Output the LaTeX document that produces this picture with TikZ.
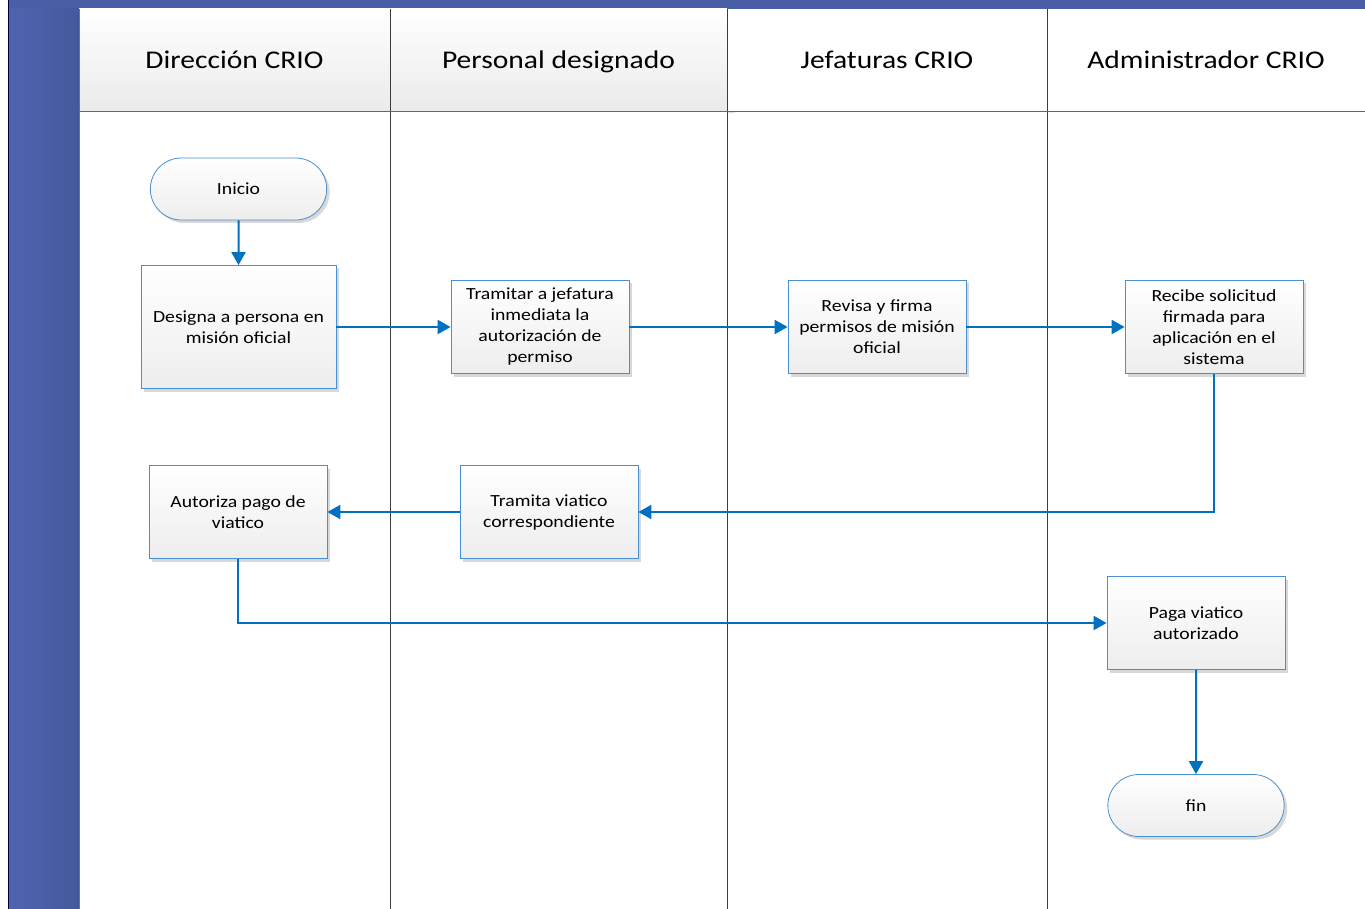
\documentclass[tikz,border=0pt]{standalone}
\usepackage{fontspec}
\setmainfont{Carlito}[FakeStretch=1.16]
\usetikzlibrary{arrows.meta,shadows,shapes.misc}
\definecolor{bandblue}{HTML}{4A5FA6}
\definecolor{bandleft}{HTML}{4E64B0}
\definecolor{bandright}{HTML}{43599C}
\definecolor{flowblue}{HTML}{0070C0}
\definecolor{edgeblue}{HTML}{4A90D0}
\definecolor{laneline}{HTML}{3C3C3C}
\tikzset{
  procbox/.style={rectangle, draw=edgeblue, line width=0.8pt,
    top color=white, bottom color=black!7,
    drop shadow={shadow xshift=3pt, shadow yshift=-3pt, fill=black!25, opacity=0.6},
    minimum width=178pt, minimum height=93pt, align=center, inner sep=2pt,
    font=\fontsize{17}{21}\selectfont},
  termbox/.style={rounded rectangle, draw=edgeblue, line width=0.8pt,
    top color=white, bottom color=black!7,
    drop shadow={shadow xshift=3pt, shadow yshift=-3pt, fill=black!25, opacity=0.6},
    minimum width=183pt, minimum height=62pt, align=center,
    font=\fontsize{17}{21}\selectfont},
  flow/.style={draw=flowblue, line width=2pt,
    -{Triangle[length=13pt, width=14pt]}},
  headtext/.style={font=\fontsize{25.5}{30}\selectfont, anchor=center,
    text height=18pt, text depth=5pt},
  lane/.style={draw=laneline, line width=0.9pt}
}
\begin{document}
\begin{tikzpicture}[x=1pt, y=-1pt]
\useasboundingbox (0,0) rectangle (1365,909);
\fill[white] (0,0) rectangle (1365,909);

% outer blue frame: top strip and left pool band
\fill[bandblue] (8,0) rectangle (1365,9);
\shade[left color=bandleft, right color=bandright] (8,9) rectangle (79,909);
\draw[black!75!blue, line width=1pt] (8.5,0) -- (8.5,909);

% lane header cells
\shade[top color=white, bottom color=black!8] (79,9) rectangle (390,111);
\shade[top color=white, bottom color=black!8] (390,9) rectangle (727,111);
\fill[black!12] (727,12) rectangle (735,113);
\fill[white] (728,10) rectangle (1365,111);

% lane lines
\draw[lane, draw=black!55] (79,9) -- (79,909);
\draw[lane] (390,9) -- (390,909);
\draw[lane] (727,9) -- (727,909);
\draw[lane] (1047,9) -- (1047,909);
\draw[lane, draw=black!60] (79,111) -- (1365,111);

% lane titles
\node[headtext] (h1) at (234.5,62) {Dirección CRIO};
\node[headtext] (h2) at (558.5,62) {Personal designado};
\node[headtext] (h3) at (887,62) {Jefaturas CRIO};
\node[headtext] (h4) at (1206,62) {Administrador CRIO};

% process steps
\node[termbox] (inicio) at (238.5,189) {Inicio};
\node[procbox, minimum width=195pt, minimum height=123pt] (designa) at (238.5,327) {Designa a persona en\\misión oficial};
\node[procbox] (tramitar) at (540,327) {Tramitar a jefatura\\inmediata la\\autorización de\\permiso};
\node[procbox] (revisa) at (877,327) {Revisa y firma\\permisos de misión\\oficial};
\node[procbox] (recibe) at (1214,327) {Recibe solicitud\\firmada para\\aplicación en el\\sistema};
\node[procbox] (autoriza) at (238,512) {Autoriza pago de\\viatico};
\node[procbox] (tramita) at (549,512) {Tramita viatico\\correspondiente};
\node[procbox] (paga) at (1196,623) {Paga viatico\\autorizado};
\node[termbox] (fin) at (1196,805.5) {fin};

% connectors
\draw[flow] (inicio) -- (designa);
\draw[flow] (designa) -- (tramitar);
\draw[flow] (tramitar) -- (revisa);
\draw[flow] (revisa) -- (recibe);
\draw[flow] (recibe.south) |- (tramita.east);
\draw[flow] (tramita) -- (autoriza);
\draw[flow] (autoriza.south) |- (paga.west);
\draw[flow] (paga) -- (fin);
\end{tikzpicture}
\end{document}
